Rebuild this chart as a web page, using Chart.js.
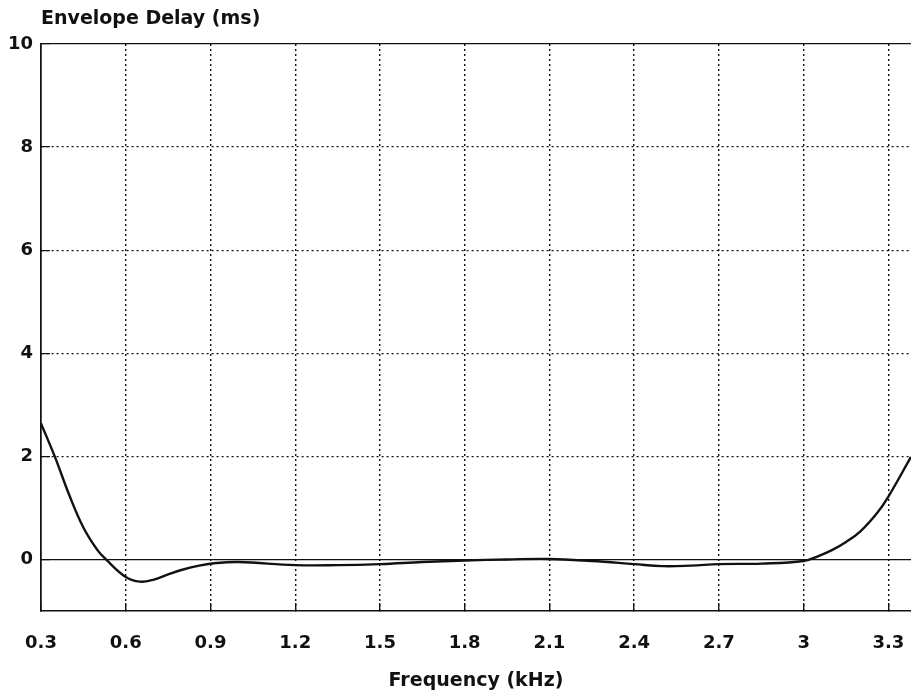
<!DOCTYPE html>
<html>
<head>
<meta charset="utf-8">
<title>Envelope Delay</title>
<script src="https://cdn.jsdelivr.net/npm/chart.js@4"></script>
<style>
  body { margin: 0; background: #fff; }
  #wrap { width: 911px; height: 698px; }
</style>
</head>
<body>
<div id="wrap"><canvas id="delay-chart"></canvas></div>
<script>
// === Envelope delay vs frequency ===

const freqKHz = [0.3, 0.35, 0.4, 0.45, 0.5, 0.53, 0.6, 0.65, 0.7, 0.75, 0.8, 0.86, 0.92, 1.0,
  1.2, 1.35, 1.5, 1.65, 1.8, 1.95, 2.1, 2.25, 2.4, 2.5, 2.6, 2.7, 2.85, 3.0, 3.05, 3.1,
  3.15, 3.2, 3.26, 3.3, 3.38];
const delayMs = [2.64, 1.98, 1.25, 0.62, 0.18, 0, -0.34, -0.43, -0.39, -0.29, -0.2, -0.12, -0.07, -0.05,
  -0.11, -0.11, -0.09, -0.05, -0.02, 0.0, 0.01, -0.03, -0.09, -0.13, -0.12, -0.09, -0.08, -0.03, 0.06, 0.18,
  0.34, 0.54, 0.9, 1.22, 1.99];

const xTicks = [0.3, 0.6, 0.9, 1.2, 1.5, 1.8, 2.1, 2.4, 2.7, 3, 3.3];
const yTicks = [0, 2, 4, 6, 8, 10];
const xRange = [0.3, 3.38];
const yRange = [-1, 10];

const tickFont = { family: 'DejaVu Sans', size: 18, weight: 'bold' };
const titleFont = { family: 'DejaVu Sans', size: 19, weight: 'bold' };
const dotted = [2, 3];

Chart.defaults.color = '#111';

const ctx = document.getElementById('delay-chart').getContext('2d');

new Chart(ctx, {
  type: 'line',
  data: {
    datasets: [{
      label: 'Envelope Delay',
      data: freqKHz.map((f, i) => ({ x: f, y: delayMs[i] })),
      borderColor: '#111',
      borderWidth: 2.4,
      pointRadius: 0,
      fill: false,
      tension: 0.4
    }]
  },
  options: {
    responsive: true,
    maintainAspectRatio: false,
    animation: false,
    layout: { padding: 0 },
    plugins: {
      legend: { display: false },
      tooltip: { enabled: false },
      title: {
        display: true,
        text: 'Envelope Delay (ms)',
        align: 'start',
        fullSize: false,
        font: titleFont,
        color: '#111',
        padding: { top: 8, bottom: 13.2 }
      }
    },
    scales: {
      x: {
        type: 'linear',
        min: xRange[0],
        max: xRange[1],
        afterBuildTicks: scale => { scale.ticks = xTicks.map(v => ({ value: v })); },
        afterFit: scale => {
          // keep the plot flush with the left axis and the right edge
          scale.height = 87;
          scale.paddingLeft = 0;
          scale.paddingRight = 0;
        },
        ticks: {
          font: tickFont,
          padding: 30,
          maxRotation: 0,
          callback: v => String(v)
        },
        grid: {
          color: '#111',
          lineWidth: 1.4,
          tickLength: -8,
          tickBorderDash: []
        },
        border: {
          display: true,
          color: '#111',
          width: 1.6,
          dash: c => (c.tick && c.tick.value === xTicks[0]) ? [] : dotted
        },
        title: {
          display: true,
          text: 'Frequency (kHz)',
          font: titleFont,
          color: '#111',
          padding: { top: 0, bottom: 6 }
        }
      },
      y: {
        type: 'linear',
        min: yRange[0],
        max: yRange[1],
        afterBuildTicks: scale => { scale.ticks = yTicks.map(v => ({ value: v })); },
        afterFit: scale => {
          scale.width = 41;
          scale.paddingTop = 0;
          scale.paddingBottom = 0;
        },
        ticks: {
          font: tickFont,
          padding: 17,
          callback: v => String(v)
        },
        grid: {
          color: '#111',
          lineWidth: 1.2,
          tickLength: -9,
          tickBorderDash: []
        },
        border: {
          display: true,
          color: '#111',
          width: 1.6,
          dash: c => (c.tick && (c.tick.value === 0 || c.tick.value === 10)) ? [] : dotted
        }
      }
    }
  }
});
</script>
</body>
</html>
